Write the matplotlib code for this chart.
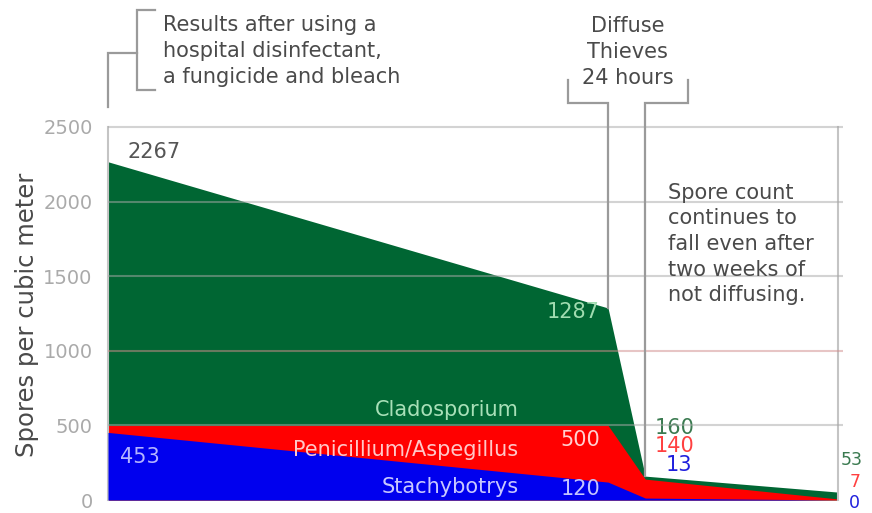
import matplotlib.pyplot as plt

# stage positions along the (unlabelled) x axis
stage_x = [0.0, 0.685, 0.736, 1.0]

# spore counts for each mould, every series drawn from zero
cladosporium = [2267, 1287, 160, 53]
penicillium = [500, 500, 140, 7]
stachybotrys = [453, 120, 13, 0]

y_ticks = [0, 500, 1000, 1500, 2000, 2500]

GREEN = '#006633'
RED = '#ff0000'
BLUE = '#0000ee'
GRAY_TXT = '#4a4a4a'
LINE = '#9a9a9a'


def main():
    fig = plt.figure(figsize=(8.72, 5.13), dpi=100)
    ax = fig.add_axes([108 / 872, 1 - 500 / 513, 730 / 872, 373 / 513])

    # overlapping areas, biggest first
    ax.fill_between(stage_x, 0, cladosporium, color=GREEN, lw=0, zorder=1)
    ax.fill_between(stage_x, 0, penicillium, color=RED, lw=0, zorder=2)
    ax.fill_between(stage_x, 0, stachybotrys, color=BLUE, lw=0, zorder=3)

    # grid drawn over the areas
    for v in y_ticks[1:]:
        c = '#d08c8c' if v == 1000 else '#a8a8a8'
        ax.hlines(v, 0, 1.007, colors=c, alpha=0.5, lw=1.5, zorder=4, clip_on=False)

    ax.set_xlim(0, 1)
    ax.set_ylim(0, 2500)
    ax.set_xticks([])
    ax.set_yticks(y_ticks)
    ax.tick_params(axis='y', length=0, pad=11, labelsize=14, labelcolor='#aaaaaa')
    for s in ['top', 'bottom']:
        ax.spines[s].set_visible(False)
    for s in ['left', 'right']:
        ax.spines[s].set_color('#c4c4c4')
        ax.spines[s].set_linewidth(1.5)

    fig.text(27 / 872, 1 - 315 / 513, 'Spores per cubic meter', rotation=90,
             ha='center', va='center', fontsize=17.5, color=GRAY_TXT)

    fs = 15
    # value labels
    ax.text(0.027, 2332, str(cladosporium[0]), color='#555555', fontsize=fs, va='center')
    ax.text(0.674, 1260, str(cladosporium[1]), color='#a0dcb0', fontsize=fs, va='center', ha='right')
    ax.text(0.016, 288, str(stachybotrys[0]), color='#b4b4ff', fontsize=fs, va='center')
    ax.text(0.674, 402, str(penicillium[1]), color='#ffd0d0', fontsize=fs, va='center', ha='right')
    ax.text(0.674, 74, str(stachybotrys[1]), color='#c4c4ff', fontsize=fs, va='center', ha='right')

    ax.text(0.562, 603, 'Cladosporium', color='#a8e0b8', fontsize=fs, va='center', ha='right')
    ax.text(0.562, 335, 'Penicillium/Aspegillus', color='#ffc8c8', fontsize=fs, va='center', ha='right')
    ax.text(0.562, 87, 'Stachybotrys', color='#c8c8ff', fontsize=fs, va='center', ha='right')

    ax.text(0.749, 483, str(cladosporium[2]), color='#3a7a50', fontsize=fs, va='center')
    ax.text(0.749, 362, str(penicillium[2]), color='#ff4040', fontsize=fs, va='center')
    ax.text(0.800, 235, str(stachybotrys[2]), color='#2020dd', fontsize=fs, va='center', ha='right')

    # right-hand end values sit tightly stacked, as in the original
    ax.text(1.003, 268, str(cladosporium[3]), color='#3a7a50', fontsize=12.5, va='center')
    ax.text(1.023, 121, str(penicillium[3]), color='#ff4040', fontsize=12.5, va='center', ha='center')
    ax.text(1.023, -20, str(stachybotrys[3]), color='#2020dd', fontsize=12.5, va='center', ha='center')

    # annotations
    ax.text(0.075, 3009, 'Results after using a\nhospital disinfectant,\na fungicide and bleach',
            color=GRAY_TXT, fontsize=fs, va='center', ha='left', linespacing=1.35)
    ax.text(0.712, 3003, 'Diffuse\nThieves\n24 hours', color=GRAY_TXT, fontsize=fs,
            va='center', ha='center', linespacing=1.35)
    ax.text(0.767, 1716, 'Spore count\ncontinues to\nfall even after\ntwo weeks of\nnot diffusing.',
            color=GRAY_TXT, fontsize=fs, va='center', ha='left', linespacing=1.35, zorder=6)

    # bracket lines
    kw = dict(color=LINE, lw=1.6, clip_on=False, zorder=5, solid_joinstyle='miter')
    ax.plot([0.0, 0.0, 0.04], [2634, 2996, 2996], **kw)
    ax.plot([0.064, 0.04, 0.04, 0.064], [3284, 3284, 2748, 2748], **kw)
    ax.plot([0.630, 0.630, stage_x[1], stage_x[1]], [2815, 2661, 2661, cladosporium[1]], **kw)
    ax.plot([0.795, 0.795, stage_x[2], stage_x[2]], [2815, 2661, 2661, cladosporium[2]], **kw)

    fig.savefig('out.png', dpi=100)


if __name__ == "__main__":
    main()
